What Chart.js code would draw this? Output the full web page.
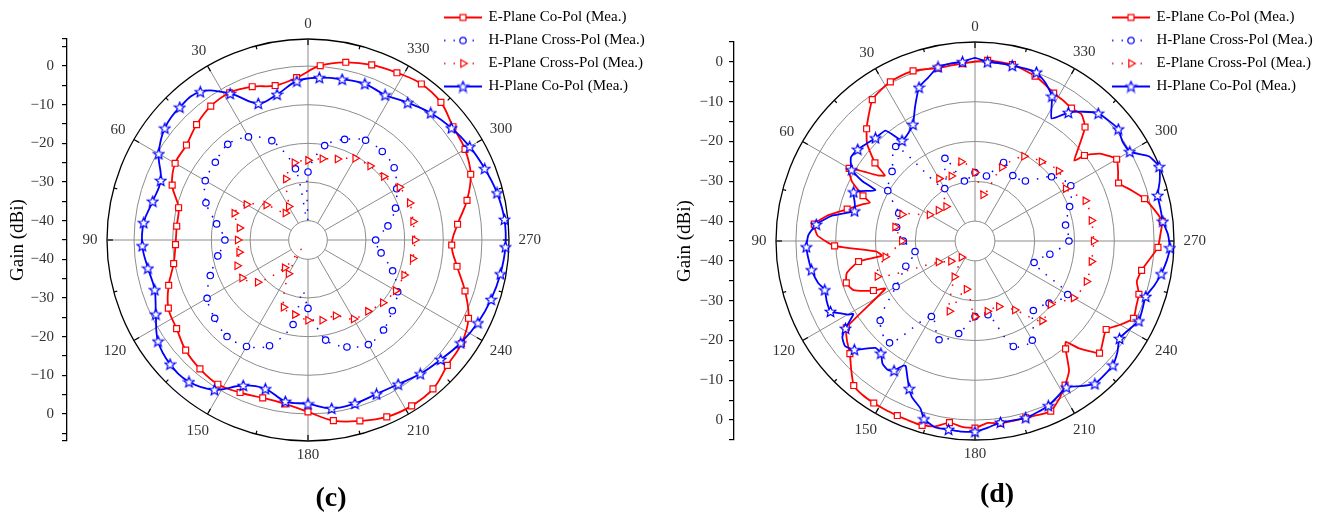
<!DOCTYPE html>
<html>
<head>
<meta charset="utf-8">
<script src="https://cdn.jsdelivr.net/npm/chart.js@4.4.1/dist/chart.umd.min.js"></script>
<style>
  html, body { margin: 0; padding: 0; background: #fff; }
  #wrap { position: relative; width: 1321px; height: 516px; overflow: hidden; }
  canvas { position: absolute; top: 0; }
  #chartC { left: 0; }
  #chartD { left: 662px; }
</style>
</head>
<body>
<div id="wrap">
  <canvas id="chartC" width="662" height="516"></canvas>
  <canvas id="chartD" width="659" height="516"></canvas>
</div>
<script>
const FONT = '"Liberation Serif", "Times New Roman", serif';
const RED = '#ff0000';
const BLUE = '#0000ff';

const seriesNames = ['E-Plane Co-Pol (Mea.)', 'H-Plane Cross-Pol (Mea.)', 'E-Plane Cross-Pol (Mea.)', 'H-Plane Co-Pol (Mea.)'];
const angleTickLabels = [0, 30, 60, 90, 120, 150, 180, 210, 240, 270, 300, 330];
const gainTickLabels = [0, -10, -20, -30, -40];

// ---- panel (c) ----  co-pol read every 8 deg from 4 deg, cross-pol every 10 deg from 0 deg
const eCoPolC = [-2.9, -4.15, -2.8, -1.85, -2.2, -3.5, -5.1, -5.3, -7.1, -10.5,
  -10.85, -10.7, -9.7, -7.1, -4.8, -4.0, -2.4, -1.5, -1.0, -1.8,
  -2.5, -2.2, -0.55, 2.2, 3.7, 5.1, 5.6, 5.3, 3.5, 2.9,
  1.2, -2.3, -5.85, -7.8, -6.1, -2.6, 0.4, 1.9, 2.6, 4.5,
  4.9, 4.0, 3.2, 2.0, 0.2];
const hCoPolC = [-3.8, -6.5, -7.4, -2.1, 2.4, 2.75, 2.0, -0.4, -3.9, -3.6,
  -2.25, -2.1, -2.95, -3.3, -1.2, 1.8, 3.0, 2.9, 0.7, -3.8,
  -4.95, -2.85, -2.6, -1.0, -1.0, -1.4, -1.0, 0.2, 1.2, 2.65,
  3.9, 4.8, 5.55, 6.1, 6.1, 5.4, 4.3, 3.3, 2.1, 0.7,
  -1.1, -2.5, -2.0, -2.5, -2.9];
const hCrossPolC = [-27.4, -26.3, -17.65, -14.2, -12.7, -13.7, -14.3, -16.9, -21.0, -23.5,
  -21.3, -18.1, -14.85, -13.5, -12.4, -13.2, -15.9, -22.8, -27.3, -18.7,
  -15.55, -13.75, -14.6, -16.5, -18.2, -21.7, -25.8, -27.5, -24.0, -20.9,
  -18.5, -15.9, -15.1, -15.2, -17.3, -20.2];
const eCrossPolC = [-24.4, -24.7, -28.2, -35, -35.9, -30.9, -26.6, -24.7, -27.0, -26.8,
  -26.9, -25.5, -25.3, -28.0, -35.6, -34.9, -26.5, -25.4, -24.25, -23.9,
  -24.15, -21.4, -20.9, -19.75, -18.8, -18.55, -17.5, -17.4, -17.4, -17.0,
  -17.7, -19.4, -20.0, -20.6, -22.7, -23.65];
// dips of the dotted curves between markers [angle, gain]
const hCrossPolCDips = [[2, -40], [174, -31.7]];
const eCrossPolCDips = [[144, -42]];

// ---- panel (d) ----  [angle, gain]
const eCoPolD = [[0, 0.1], [4, -0.35], [8, -0.5], [12, -0.6], [16, -0.1], [20, 0.5], [24, 0.5], [28, 0.3],
  [32, -0.3], [36, -1.1], [40, -3.5], [44, -5.8], [48, -8.5], [52, -13.1], [54, -17.0], [56, -15.5],
  [60, -8.5], [64, -10.5], [68, -14.65], [70, -16.9], [72, -15.2], [76, -11.9], [80, -7.6], [84, -4.4],
  [88, -5.4], [92, -9.7], [96, -20.0], [99, -21.3], [100, -15.3], [104, -11.8], [108, -11.0], [112, -12.1],
  [116, -16.6], [118, -19.5], [124, -6.0], [128, -4.2], [132, -2.7], [136, -0.2], [140, 2.4], [144, 2.9],
  [148, 3.0], [152, 3.0], [156, 3.0], [160, 3.1], [164, 3.2], [168, 2.6], [172, 1.1], [176, 1.8],
  [180, 2.0], [184, 0.8], [188, 1.3], [192, 1.2], [196, 1.2], [200, 1.5], [204, 1.8], [208, 0.0],
  [212, -2.3], [216, -4.8], [220, -9.6], [222, -10.9], [224, -7.6], [228, -2.9], [232, -4.2], [236, -5.25],
  [240, -2.9], [244, -0.7], [248, -1.3], [252, -1.7], [256, -3.1], [260, -2.5], [264, -0.9], [268, 1.0],
  [272, 1.6], [276, 2.3], [280, 0.7], [284, -1.1], [288, -3.7], [292, -6.1], [296, -5.0], [300, -3.9],
  [305, -6.7], [308, -10.1], [309, -12.9], [312, -10.0], [316, -5.2], [320, -3.4], [324, -3.75], [328, -3.3],
  [332, -2.9], [336, -1.9], [340, -0.9], [344, -0.3], [348, 0.3], [352, 0.4], [356, 0.5]];
const hCoPolD = [[0, 1.0], [4, 0.15], [8, 0.0], [12, -0.3], [16, -2.3], [20, -3.9], [24, -8.0], [28, -11.8],
  [32, -13.2], [36, -13.8], [39, -9.3], [44, -9.0], [48, -8.4], [52, -7.6], [56, -7.4], [60, -9.2],
  [62, -12.9], [63, -16.9], [68, -12.1], [72, -13.2], [76, -13.8], [80, -8.5], [84, -4.9], [88, -3.1],
  [92, -2.6], [96, -2.9], [100, -3.3], [105, -4.2], [108, -5.3], [112, -4.8], [116, -4.6], [118, -6.4],
  [120, -8.0], [121, -9.35], [124, -5.75], [126, -3.8], [129, -3.0], [132, -4.2], [137, -8.3], [140, -8.2],
  [143, -6.4], [146, -5.9], [148, -6.6], [150, -8.8], [151, -9.1], [154, -6.4], [156, -4.4], [158, -2.7],
  [162, -0.7], [164, 1.5], [168, 2.9], [172, 2.8], [176, 3.0], [180, 2.9], [184, 2.0], [188, 1.0],
  [192, 1.1], [196, 1.2], [200, 0.8], [204, 0.3], [208, -0.75], [212, -1.7], [216, 0.1], [220, 1.85],
  [224, 1.8], [228, 1.6], [232, 0.4], [236, -1.2], [240, -0.4], [244, 0.8], [248, 0.4], [252, 0.1],
  [256, 1.4], [260, 2.5], [264, 3.4], [268, 4.0], [272, 3.5], [276, 2.45], [280, 2.3], [284, 2.3],
  [288, 3.8], [292, 4.9], [296, 3.6], [300, -0.1], [304, -0.3], [308, 0.7], [312, 0.2], [316, -0.4],
  [320, -2.6], [324, -5.1], [328, -8.7], [332, -3.8], [336, -1.5], [340, 0.15], [344, 0.1], [348, 0.05],
  [352, 0.1], [356, 0.1]];
const hCrossPolD = [-27.8, -29.7, -22.9, -29.8, -14.0, -17.8, -19.7, -24.6, -25.0, -27.0,
  -29.7, -26.5, -22.1, -13.9, -11.6, -23.1, -18.6, -21.4, -26.0, -26.2,
  -16.8, -16.2, -22.2, -20.7, -18.1, -29.2, -25.9, -21.4, -21.9, -19.7,
  -17.2, -19.9, -25.3, -26.0, -24.0, -28.4];
const eCrossPolD = [-27.8, -24.8, -27.6, -26.9, -33.7, -33.0, -31.8, -25.5, -24.6, -26.6,
  -22.1, -18.9, -34.4, -37.1, -39.7, -34.6, -26.2, -32.7, -26.0, -27.1,
  -27.5, -25.0, -18.8, -20.2, -16.4, -15.2, -15.3, -15.2, -15.3, -15.5,
  -18.7, -17.6, -19.0, -20.4, -25.3, -33.2];

// ---- helpers ----
// radar goes clockwise, the plot counts angles counter-clockwise: 1 deg grid
const gridLabels = Array.from({length: 360}, (_, i) => (360 - i) % 360);
const idx = th => (360 - th) % 360;
const pairs = (start, step, vals) => vals.map((v, i) => [start + i * step, v]);
function toGrid(list) {
  const a = new Array(360).fill(null);
  list.forEach(([t, v]) => { a[idx(t)] = v; });
  return a;
}
const coMark = th => th % 8 === 4;
const crossMark = th => th % 10 === 0;

function starImage(color) {
  const c = document.createElement('canvas');
  c.width = 13; c.height = 13;
  const g = c.getContext('2d');
  const R = 5.6, r = 2.5;
  g.beginPath();
  for (let k = 0; k < 10; k++) {
    const a = -Math.PI / 2 + k * Math.PI / 5;
    const rr = k % 2 ? r : R;
    g.lineTo(6.5 + rr * Math.cos(a), 7 + rr * Math.sin(a));
  }
  g.closePath();
  g.fillStyle = '#fff'; g.fill();
  g.strokeStyle = color; g.lineWidth = 1.2; g.stroke();
  return c;
}
const STAR = starImage(BLUE);

const styles = [
  {color: RED, dash: [], lw: 1.8, style: 'rect', size: 4.2, rot: 0, mark: coMark, order: 4},
  {color: BLUE, dash: [1.5, 8], lw: 1.5, style: 'circle', size: 3.2, rot: 0, mark: crossMark, order: 3},
  {color: RED, dash: [1.5, 8], lw: 1.5, style: 'triangle', size: 4.3, rot: 90, mark: crossMark, order: 2},
  {color: BLUE, dash: [], lw: 1.8, style: STAR, size: 4.2, rot: 0, mark: coMark, order: 1}
];

function legendSample(s) {
  const c = document.createElement('canvas');
  c.width = 38; c.height = 14;
  const g = c.getContext('2d');
  g.strokeStyle = s.color; g.lineWidth = s.lw; g.setLineDash(s.dash);
  g.beginPath(); g.moveTo(0, 7); g.lineTo(38, 7); g.stroke();
  g.setLineDash([]);
  g.fillStyle = '#fff'; g.strokeStyle = s.color; g.lineWidth = 1.2;
  Chart.helpers.drawPoint(g, {pointStyle: s.style, radius: s.size, rotation: s.rot, borderWidth: 1.2}, 19, 7);
  return c;
}
const legendImgs = styles.map(legendSample);

function dataset(i, list, tension) {
  const s = styles[i];
  return {
    label: seriesNames[i],
    data: toGrid(list),
    order: s.order,
    borderColor: s.color,
    borderWidth: s.lw,
    borderDash: s.dash,
    borderJoinStyle: 'round',
    fill: false,
    spanGaps: true,
    tension: tension,
    pointStyle: s.style,
    pointRotation: s.rot,
    pointRadius: c => (c.raw !== null && s.mark(gridLabels[c.dataIndex])) ? s.size : 0,
    pointBorderColor: s.color,
    pointBackgroundColor: '#fff',
    pointBorderWidth: 1.2
  };
}

const polarDecor = {
  id: 'polarDecor',
  afterLayout(chart, args, opts) {
    const lg = chart.legend;
    if (!lg) return;
    const w = lg.width, h = lg.height;
    lg.left = opts.legendX; lg.top = opts.legendY;
    lg.right = lg.left + w; lg.bottom = lg.top + h;
  },
  beforeDatasetsDraw(chart) {
    const s = chart.scales.r, ctx = chart.ctx, R = s.drawingArea;
    ctx.save();
    ctx.strokeStyle = '#000';
    ctx.lineWidth = 1.2;
    for (let th = 0; th < 360; th += 15) {
      const len = th % 30 === 0 ? 6 : 3.5;
      const p1 = s.getPointPosition(idx(th), R);
      const p2 = s.getPointPosition(idx(th), R - len);
      ctx.beginPath(); ctx.moveTo(p1.x, p1.y); ctx.lineTo(p2.x, p2.y); ctx.stroke();
    }
    ctx.restore();
  },
  afterDraw(chart, args, opts) {
    const s = chart.scales.r, ctx = chart.ctx, R = s.drawingArea;
    ctx.save();
    ctx.font = '15px ' + FONT;
    ctx.fillStyle = '#333';
    ctx.textAlign = 'center';
    ctx.textBaseline = 'middle';
    angleTickLabels.forEach(th => {
      const txt = String(th);
      const w = ctx.measureText(txt).width, h = 10;
      const phi = th * Math.PI / 180;
      const d = R + 9.5 + Math.abs(Math.sin(phi)) * w / 2 + Math.abs(Math.cos(phi)) * h / 2;
      const p = s.getPointPosition(idx(th), d);
      ctx.fillText(txt, p.x, p.y);
    });
    // panel caption
    ctx.font = 'bold 28px ' + FONT;
    ctx.fillStyle = '#000';
    ctx.fillText(opts.caption, opts.capX, opts.capY);
    ctx.restore();
  }
};

function gainLabel(v) {
  const g = Math.round(Math.abs(v) - 45);
  if (!gainTickLabels.includes(g)) return '';
  return g === 0 ? '0' : '\u2212' + Math.abs(g);
}

function makePolar(id, p) {
  const yTicks = [];
  if (p.yRange % 5) yTicks.push(-p.yRange);
  for (let v = -50; v <= 50; v += 5) yTicks.push(v);
  if (p.yRange % 5) yTicks.push(p.yRange);

  return new Chart(document.getElementById(id), {
    type: 'radar',
    data: {
      labels: gridLabels,
      datasets: [
        dataset(0, p.eCo, p.coTension),
        dataset(1, p.hCross, 0.3),
        dataset(2, p.eCross, 0.3),
        dataset(3, p.hCo, p.coTension)
      ]
    },
    options: {
      responsive: false,
      animation: false,
      events: [],
      layout: {padding: p.padding},
      scales: {
        r: {
          min: -45,
          max: p.rMax,
          ticks: {display: false, stepSize: 10},
          afterBuildTicks: s => { s.ticks = [-40, -30, -20, -10, 0, p.rMax].map(v => ({value: v})); },
          grid: {
            circular: true,
            color: c => (c.tick && c.tick.value === p.rMax) ? '#000' : '#8c8c8c',
            lineWidth: c => (c.tick && c.tick.value === p.rMax) ? 1.3 : 1
          },
          angleLines: {
            color: '#8c8c8c',
            lineWidth: c => (gridLabels[c.index] % 30 === 0 ? 1 : 0),
            borderDash: c => [0, c.chart.scales.r.getDistanceFromCenterForValue(-40), 1000]
          },
          pointLabels: {display: false}
        },
        y: {
          type: 'linear',
          position: 'left',
          min: -p.yRange,
          max: p.yRange,
          afterBuildTicks: s => { s.ticks = yTicks.map(v => ({value: v})); },
          afterFit: s => { s.width = p.axisW; },
          ticks: {
            autoSkip: false,
            padding: p.tickPad,
            color: '#333',
            font: {family: FONT, size: 15},
            callback: v => gainLabel(v)
          },
          grid: {drawOnChartArea: false, drawTicks: true, tickLength: 5, color: '#000', lineWidth: 1.2},
          border: {display: true, color: '#000', width: 1.3},
          title: {
            display: true,
            text: 'Gain (dBi)',
            color: '#000',
            font: {family: FONT, size: 19},
            padding: {top: p.titlePad, bottom: 0}
          }
        }
      },
      plugins: {
        legend: {
          display: true,
          position: 'chartArea',
          align: 'start',
          labels: {
            usePointStyle: true,
            pointStyleWidth: 36,
            padding: 8,
            color: '#000',
            font: {family: FONT, size: 15},
            generateLabels: chart => chart.data.datasets.map((d, i) => ({
              text: d.label, pointStyle: legendImgs[i], datasetIndex: i,
              hidden: false, lineWidth: 0, fontColor: '#000'
            }))
          }
        },
        title: {display: false},
        tooltip: {enabled: false},
        polarDecor: {legendX: p.legendX, legendY: p.legendY, caption: p.caption, capX: p.capX, capY: p.capY}
      }
    },
    plugins: [polarDecor]
  });
}

makePolar('chartC', {
  eCo: pairs(4, 8, eCoPolC),
  hCo: pairs(4, 8, hCoPolC),
  hCross: pairs(0, 10, hCrossPolC).concat(hCrossPolCDips),
  eCross: pairs(0, 10, eCrossPolC).concat(eCrossPolCDips),
  coTension: 0.4,
  rMax: 7, yRange: 52, axisW: 67, tickPad: 8, titlePad: 7,
  padding: {top: 39, right: 112, bottom: 75, left: 0},
  caption: '(c)', capX: 331, capY: 499,
  legendX: 437, legendY: 2
});

makePolar('chartD', {
  eCo: eCoPolD,
  hCo: hCoPolD,
  hCross: pairs(0, 10, hCrossPolD),
  eCross: pairs(0, 10, eCrossPolD),
  coTension: 0.15,
  rMax: 5, yRange: 50, axisW: 72, tickPad: 6, titlePad: 12,
  padding: {top: 42, right: 105, bottom: 76, left: 0},
  caption: '(d)', capX: 335, capY: 495,
  legendX: 443, legendY: 2
});
</script>
</body>
</html>
